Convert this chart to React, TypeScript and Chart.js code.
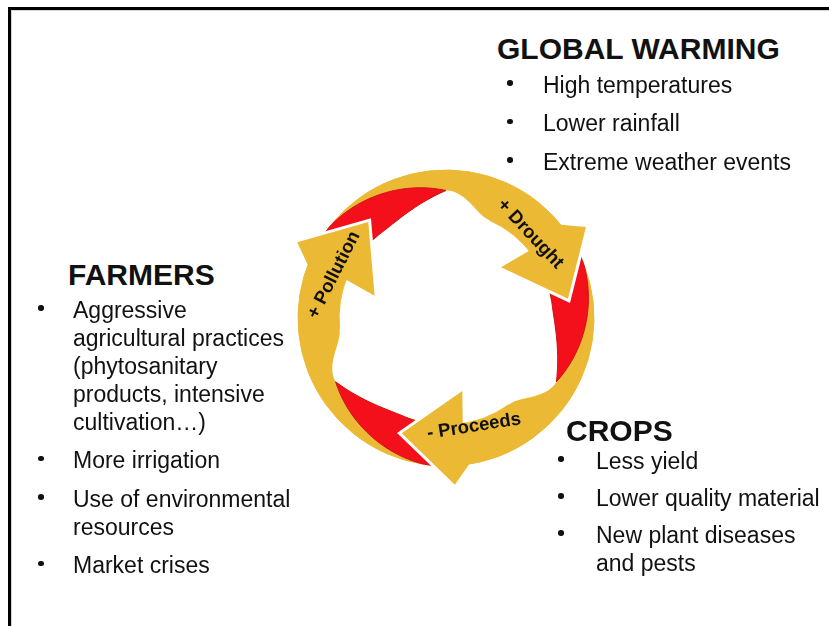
import React, { useEffect, useRef } from 'react';
import { Chart, registerables } from 'chart.js';

Chart.register(...registerables);

// ---------- data ----------
const cycleLabels = ['+ Drought', '- Proceeds', '+ Pollution'];
const cycleSpans = [120, 120, 120]; // degrees of the ring taken by each arrow
const headSpans = [27, 27, 27]; // degrees covered by each arrow head
const tailSpans = [66, 66, 66]; // degrees covered by each red tail

const warmingTitle = 'GLOBAL WARMING';
const warmingItems = [['High temperatures'], ['Lower rainfall'], ['Extreme weather events']];
const farmersTitle = 'FARMERS';
const farmersItems = [
  ['Aggressive', 'agricultural practices', '(phytosanitary', 'products, intensive', 'cultivation…)'],
  ['More irrigation'],
  ['Use of environmental', 'resources'],
  ['Market crises'],
];
const cropsTitle = 'CROPS';
const cropsItems = [['Less yield'], ['Lower quality material'], ['New plant diseases', 'and pests']];

// ---------- style / layout ----------
const YELLOW = '#ECB935';
const RED = '#F4101B';
const RED_EDGE = '#C9141C';
const TEXT = '#111111';
const FONT = '"Liberation Sans", Arial, Helvetica, sans-serif';
const TITLE_FS = 30;
const BODY_FS = 23;
const LINE_H = 28;
const ASC = 0.8465;

const CANVAS = 340;
const OUTER_R = 148;
const INNER_R = 107;
const HEAD_HALF = 47;
const TIP_FRAC = 0.5;
const DEG = Math.PI / 180;

const labelLayout = [
  { a: 315, r: 119, rot: 47 },
  { a: 75.5, r: 112, rot: -9 },
  { a: 201, r: 120, rot: -63 },
];

function polar(cx: number, cy: number, r: number, a: number): [number, number] {
  return [cx + r * Math.cos(a), cy + r * Math.sin(a)];
}

const cyclePlugin = {
  id: 'cycleArrows',
  afterDatasetsDraw(chart: any) {
    const ctx: CanvasRenderingContext2D = chart.ctx;
    const arcs: any[] = chart.getDatasetMeta(0).data;
    ctx.save();

    // red tails + inner notch
    arcs.forEach((arc, i) => {
      const { x, y, startAngle } = arc;
      const ri = arc.innerRadius;
      const ro = arc.outerRadius;
      const span = tailSpans[i] * DEG;
      const rTip = ri + TIP_FRAC * (ro - ri);
      const N = 60;
      const rOut = (t: number) => (t < 0.2 ? ro : ro - (ro - rTip) * Math.pow((t - 0.2) / 0.8, 1.25));
      const rIn = (t: number) => (t < 0.45 ? ri : ri + (rTip - ri) * Math.pow((t - 0.45) / 0.55, 1.7));

      // white notch on the inner side of the ribbon
      const ext = 24 * DEG;
      ctx.beginPath();
      for (let k = 0; k <= N; k++) {
        const a = startAngle + 0.4 * span + (k / N) * (0.6 * span + ext);
        const p = polar(x, y, ri - 2, a);
        k === 0 ? ctx.moveTo(p[0], p[1]) : ctx.lineTo(p[0], p[1]);
      }
      for (let k = N; k >= 0; k--) {
        const s = k / N;
        const a = startAngle + span + s * ext;
        const f = 0.5 - 0.5 * Math.cos(Math.PI * s);
        const p = polar(x, y, rTip - (rTip - ri) * f, a);
        ctx.lineTo(p[0], p[1]);
      }
      for (let k = N; k >= 0; k--) {
        const t = 0.4 + 0.6 * (k / N);
        const p = polar(x, y, rIn(t), startAngle + t * span);
        ctx.lineTo(p[0], p[1]);
      }
      ctx.closePath();
      ctx.fillStyle = '#ffffff';
      ctx.fill();

      // red crescent
      ctx.beginPath();
      for (let k = 0; k <= N; k++) {
        const t = k / N;
        const p = polar(x, y, rOut(t), startAngle + t * span);
        k === 0 ? ctx.moveTo(p[0], p[1]) : ctx.lineTo(p[0], p[1]);
      }
      for (let k = N; k >= 0; k--) {
        const t = k / N;
        const p = polar(x, y, rIn(t), startAngle + t * span);
        ctx.lineTo(p[0], p[1]);
      }
      ctx.closePath();
      ctx.fillStyle = RED;
      ctx.fill();
      ctx.lineWidth = 1;
      ctx.strokeStyle = RED_EDGE;
      ctx.stroke();
    });

    // arrow heads
    arcs.forEach((arc, i) => {
      const { x, y, endAngle } = arc;
      const ri = arc.innerRadius;
      const ro = arc.outerRadius;
      const rm = (ri + ro) / 2;
      const [bx, by] = polar(x, y, rm - 7, endAngle);
      const [tx, ty] = polar(x, y, rm - 4, endAngle + headSpans[i] * DEG);
      let dx = tx - bx;
      let dy = ty - by;
      const L = Math.hypot(dx, dy);
      dx /= L;
      dy /= L;
      const nx = dy;
      const ny = -dx;
      const ob: [number, number] = [bx + HEAD_HALF * nx, by + HEAD_HALF * ny];
      const ib: [number, number] = [bx - HEAD_HALF * nx, by - HEAD_HALF * ny];
      const bo = polar(x, y, ro, endAngle - 3 * DEG);
      const bi = polar(x, y, ri, endAngle - 3 * DEG);

      ctx.beginPath();
      ctx.moveTo(ib[0], ib[1]);
      ctx.lineTo(tx, ty);
      ctx.lineTo(ob[0], ob[1]);
      ctx.lineJoin = 'miter';
      ctx.lineWidth = 6;
      ctx.strokeStyle = '#ffffff';
      ctx.stroke();

      ctx.beginPath();
      ctx.moveTo(tx, ty);
      ctx.lineTo(ob[0], ob[1]);
      ctx.lineTo(bo[0], bo[1]);
      ctx.lineTo(bi[0], bi[1]);
      ctx.lineTo(ib[0], ib[1]);
      ctx.closePath();
      ctx.fillStyle = YELLOW;
      ctx.fill();
    });

    // labels
    const labels: string[] = chart.data.labels;
    arcs.forEach((arc, i) => {
      const lay = labelLayout[i];
      const [lx, ly] = polar(arc.x, arc.y, lay.r, lay.a * DEG);
      ctx.save();
      ctx.translate(lx, ly);
      ctx.rotate(lay.rot * DEG);
      ctx.font = `bold 18.5px ${FONT}`;
      ctx.fillStyle = TEXT;
      ctx.textAlign = 'center';
      ctx.textBaseline = 'middle';
      ctx.fillText(labels[i], 0, 0);
      ctx.restore();
    });

    ctx.restore();
  },
};

type BlockLayout = {
  titleX: number;
  titleBase: number;
  bulletX: number;
  textX: number;
  firstBase: number;
  gap: number;
};

function TextBlock({ title, items, L }: { title: string; items: string[][]; L: BlockLayout }) {
  const els: React.ReactNode[] = [];
  els.push(
    <div
      key="title"
      style={{
        position: 'absolute',
        left: L.titleX,
        top: L.titleBase - ASC * TITLE_FS,
        fontSize: TITLE_FS,
        lineHeight: `${TITLE_FS}px`,
        fontWeight: 'bold',
        whiteSpace: 'nowrap',
        color: TEXT,
      }}
    >
      {title}
    </div>
  );
  let base = L.firstBase;
  items.forEach((lines, i) => {
    els.push(
      <div
        key={`b${i}`}
        style={{
          position: 'absolute',
          left: L.bulletX - 2.75,
          top: base - 10 - 2.75,
          width: 5.5,
          height: 5.5,
          borderRadius: '50%',
          background: TEXT,
        }}
      />
    );
    lines.forEach((ln, j) => {
      els.push(
        <div
          key={`l${i}-${j}`}
          style={{
            position: 'absolute',
            left: L.textX,
            top: base - ASC * BODY_FS,
            fontSize: BODY_FS,
            lineHeight: `${BODY_FS}px`,
            whiteSpace: 'nowrap',
            color: TEXT,
          }}
        >
          {ln}
        </div>
      );
      base += LINE_H;
    });
    base += L.gap;
  });
  return <>{els}</>;
}

export default function App() {
  const ref = useRef<HTMLCanvasElement>(null);

  useEffect(() => {
    if (!ref.current) return;
    const chart = new Chart(ref.current, {
      type: 'doughnut',
      data: {
        labels: cycleLabels,
        datasets: [
          {
            data: cycleSpans,
            backgroundColor: YELLOW,
            borderColor: YELLOW,
            borderWidth: 1,
            hoverOffset: 0,
          },
        ],
      },
      options: {
        animation: false,
        responsive: false,
        maintainAspectRatio: false,
        rotation: 294,
        radius: OUTER_R,
        cutout: `${(INNER_R / OUTER_R) * 100}%`,
        layout: { padding: 0 },
        events: [],
        plugins: { legend: { display: false }, tooltip: { enabled: false } },
      } as any,
      plugins: [cyclePlugin],
    });
    return () => chart.destroy();
  }, []);

  return (
    <div
      style={{
        position: 'absolute',
        left: 0,
        top: 0,
        width: 829,
        height: 626,
        overflow: 'hidden',
        background: '#ffffff',
        fontFamily: FONT,
      }}
    >
      <div
        style={{
          position: 'absolute',
          left: 8,
          top: 7,
          right: -20,
          bottom: -20,
          borderTop: '3px solid #000',
          borderLeft: '3px solid #000',
        }}
      />
      <div
        style={{
          position: 'absolute',
          left: 11,
          top: 10,
          right: -20,
          bottom: -20,
          borderTop: '1px solid #d4d4d4',
          borderLeft: '1px solid #d4d4d4',
        }}
      />
      <canvas
        ref={ref}
        width={CANVAS}
        height={CANVAS}
        style={{ position: 'absolute', left: 446 - CANVAS / 2, top: 318 - CANVAS / 2, width: CANVAS, height: CANVAS }}
      />
      <TextBlock
        title={warmingTitle}
        items={warmingItems}
        L={{ titleX: 497, titleBase: 59, bulletX: 510, textX: 543, firstBase: 93, gap: 10.5 }}
      />
      <TextBlock
        title={farmersTitle}
        items={farmersItems}
        L={{ titleX: 68, titleBase: 285, bulletX: 41, textX: 73, firstBase: 318, gap: 10.5 }}
      />
      <TextBlock
        title={cropsTitle}
        items={cropsItems}
        L={{ titleX: 566, titleBase: 441, bulletX: 561, textX: 596, firstBase: 469, gap: 9 }}
      />
    </div>
  );
}
